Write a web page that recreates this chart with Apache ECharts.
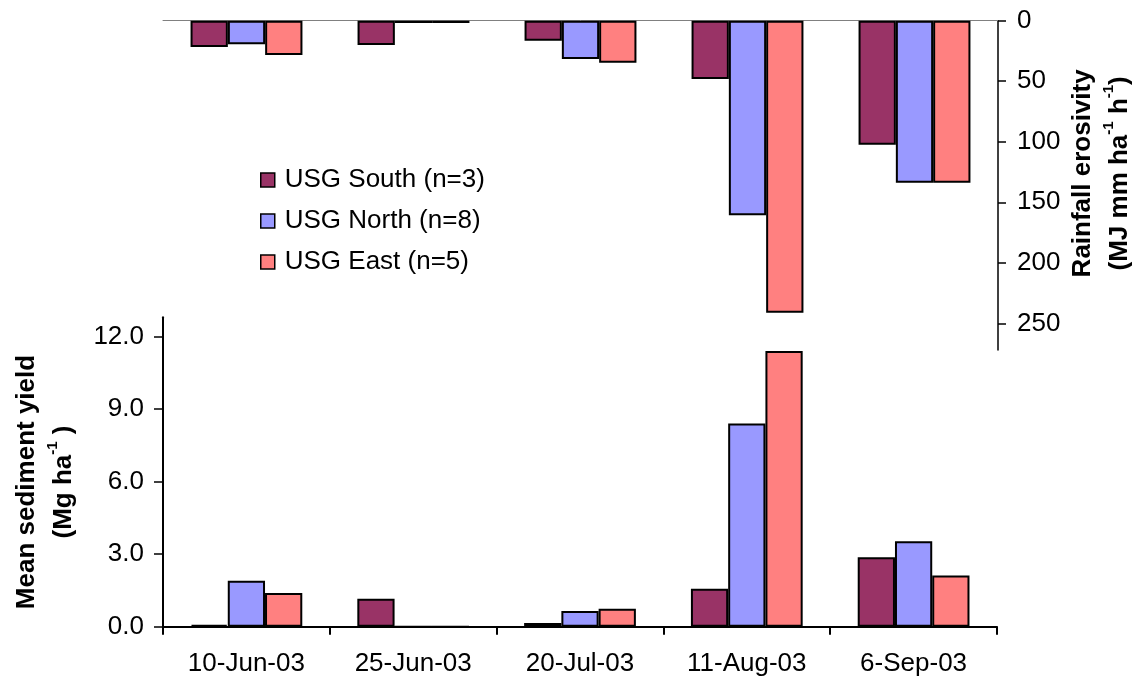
<!DOCTYPE html>
<html>
<head>
<meta charset="utf-8">
<script src="https://cdn.jsdelivr.net/npm/echarts@6/dist/echarts.min.js"></script>
<style>
  html, body { margin: 0; padding: 0; background: #fff; }
  #chart { width: 1142px; height: 681px; }
</style>
</head>
<body>
<div id="chart"></div>
<script>
// Sampling dates
const dates = ['10-Jun-03', '25-Jun-03', '20-Jul-03', '11-Aug-03', '6-Sep-03'];
const seriesNames = ['USG South (n=3)', 'USG North (n=8)', 'USG East (n=5)'];

// Rainfall erosivity (MJ mm ha-1 h-1), drawn hanging from the top
const erosSouth = [21.7, 20, 16.5, 48.2, 102.5];
const erosNorth = [19.5, 2, 31.7, 160.6, 133.9];
const erosEast = [28.3, 2, 34.7, 241.3, 133.9];

// Mean sediment yield (Mg ha-1)
const sedSouth = [0.08, 1.16, 0.15, 1.57, 2.87];
const sedNorth = [1.90, 0, 0.65, 8.41, 3.54];
const sedEast = [1.39, 0, 0.74, 11.41, 2.12];

// Axis tick values
const erosTicks = [0, 50, 100, 150, 200, 250];
const sedTicks = [0, 3, 6, 9, 12];

const colors = ['#993366', '#9999FF', '#FF8080'];
const FONT = '"Liberation Sans", Arial, sans-serif';
const FS = 26;

const chart = echarts.init(document.getElementById('chart'), null, { renderer: 'canvas' });

function barSeries(name, data, idx, axisIdx) {
  return {
    type: 'bar',
    name: name,
    data: data,
    xAxisIndex: axisIdx,
    yAxisIndex: axisIdx,
    barGap: '0%',
    barCategoryGap: '33%',
    itemStyle: { color: colors[idx], borderColor: '#000', borderWidth: 2 },
    emphasis: { disabled: true },
    animation: false
  };
}

const nameRich = {
  b: { fontFamily: FONT, fontWeight: 'bold', fontSize: FS, color: '#000', lineHeight: 37 },
  s: { fontFamily: FONT, fontWeight: 'bold', fontSize: 15, color: '#000', verticalAlign: 'top', lineHeight: 37 }
};

const option = {
  backgroundColor: '#fff',
  animation: false,
  color: colors,
  legend: {
    data: seriesNames,
    orient: 'vertical',
    left: 260,
    top: 167,
    padding: 0,
    itemWidth: 14,
    itemHeight: 14,
    itemGap: 15,
    icon: 'rect',
    selectedMode: false,
    itemStyle: { borderColor: '#000', borderWidth: 1.5 },
    textStyle: { fontFamily: FONT, fontSize: FS, color: '#000', padding: [0, 0, 0, 5] }
  },
  grid: [
    { left: 163, right: 144, top: 20.7, bottom: 331, outerBoundsMode: 'none' },
    { left: 163, right: 145, top: 317.3, bottom: 54.3, outerBoundsMode: 'none' }
  ],
  xAxis: [
    {
      type: 'category', gridIndex: 0, data: dates, position: 'top',
      axisLine: { lineStyle: { color: '#808080', width: 1 } },
      axisTick: { show: false },
      axisLabel: { show: false }
    },
    {
      type: 'category', gridIndex: 1, data: dates, position: 'bottom',
      axisLine: { lineStyle: { color: '#000', width: 2 } },
      axisTick: { show: true, length: 8, lineStyle: { color: '#000', width: 2 } },
      axisLabel: { fontFamily: FONT, fontSize: FS, color: '#000', margin: 24 }
    }
  ],
  yAxis: [
    {
      type: 'value', gridIndex: 0, position: 'right', inverse: true,
      min: 0, max: 272,
      splitLine: { show: false },
      axisLine: { show: true, lineStyle: { color: '#000', width: 1.5 } },
      axisTick: { show: true, length: 8, customValues: erosTicks, lineStyle: { color: '#000', width: 1.5 } },
      axisLabel: { fontFamily: FONT, fontSize: FS, color: '#000', margin: 19, customValues: erosTicks },
      name: '{b|Rainfall erosivity}\n{b|(MJ mm ha}{s|-1}{b| h}{s|-1}{b|)}',
      nameLocation: 'middle',
      nameRotate: 90,
      nameGap: 66,
      nameMoveOverlap: false,
      nameTextStyle: { rich: nameRich, lineHeight: 37, padding: [0, 0, 0, 24] }
    },
    {
      type: 'value', gridIndex: 1, position: 'left',
      min: 0, max: 12.8,
      splitLine: { show: false },
      axisLine: { show: true, lineStyle: { color: '#000', width: 2 } },
      axisTick: { show: true, length: 9, customValues: sedTicks, lineStyle: { color: '#000', width: 1.5 } },
      axisLabel: {
        fontFamily: FONT, fontSize: FS, color: '#000', margin: 19, customValues: sedTicks,
        formatter: v => v.toFixed(1)
      },
      name: '{b|Mean sediment yield}\n{b|(Mg ha}{s|-1}{b| )}',
      nameLocation: 'middle',
      nameRotate: 90,
      nameGap: 81,
      nameMoveOverlap: false,
      nameTextStyle: { rich: nameRich, lineHeight: 37, padding: [0, 20, 0, 0] }
    }
  ],
  series: [
    barSeries(seriesNames[0], erosSouth, 0, 0),
    barSeries(seriesNames[1], erosNorth, 1, 0),
    barSeries(seriesNames[2], erosEast, 2, 0),
    barSeries(seriesNames[0], sedSouth, 0, 1),
    barSeries(seriesNames[1], sedNorth, 1, 1),
    barSeries(seriesNames[2], sedEast, 2, 1)
  ]
};

chart.setOption(option);
</script>
</body>
</html>
